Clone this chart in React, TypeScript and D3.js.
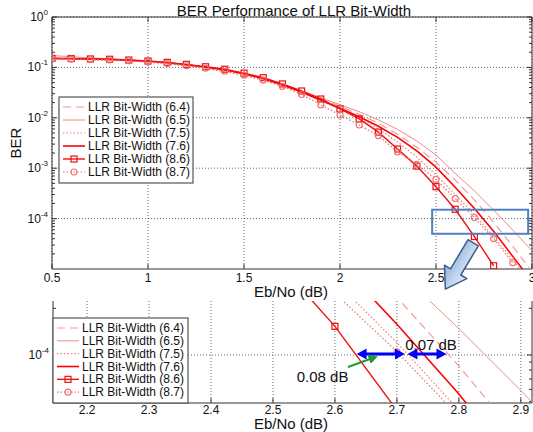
import React from 'react';
import * as d3 from 'd3';

// Eb/No sample points (dB)
const ebNo = [0.5, 0.6, 0.7, 0.8, 0.9, 1.0, 1.1, 1.2, 1.3, 1.4, 1.5, 1.6, 1.7, 1.8, 1.9, 2.0, 2.1, 2.2, 2.3, 2.4, 2.5, 2.6, 2.7, 2.8, 2.9, 3.0];

// BER
const ber64 = [0.155, 0.152, 0.149, 0.145, 0.139, 0.132, 0.123, 0.112, 0.100, 0.088, 0.074, 0.059, 0.045, 0.0331, 0.0240, 0.0170, 0.0117, 0.0078, 0.0047, 0.0026, 0.00132, 5.8e-4, 2.35e-4, 8.5e-5, 2.8e-5, 8.9e-6];
const ber65 = [0.172, 0.163, 0.155, 0.148, 0.141, 0.133, 0.124, 0.113, 0.101, 0.089, 0.075, 0.060, 0.046, 0.0339, 0.0251, 0.0182, 0.0132, 0.0091, 0.0059, 0.00347, 0.00182, 7.9e-4, 3.55e-4, 1.48e-4, 5.9e-5, 2.3e-5];
const ber75 = [0.147, 0.145, 0.142, 0.139, 0.134, 0.127, 0.118, 0.107, 0.095, 0.083, 0.069, 0.056, 0.043, 0.0316, 0.0219, 0.0151, 0.0100, 0.0060, 0.0033, 0.00166, 7.4e-4, 3.0e-4, 1.2e-4, 4.4e-5, 1.5e-5, 5.0e-6];
const ber76 = [0.150, 0.148, 0.146, 0.143, 0.138, 0.132, 0.124, 0.113, 0.101, 0.089, 0.075, 0.060, 0.045, 0.0324, 0.0224, 0.0155, 0.0105, 0.0068, 0.0041, 0.0022, 0.00105, 4.2e-4, 1.58e-4, 5.6e-5, 1.78e-5, 5.6e-6];
const ber86 = [0.151, 0.150, 0.147, 0.145, 0.140, 0.134, 0.126, 0.115, 0.103, 0.092, 0.077, 0.0625, 0.047, 0.034, 0.0236, 0.015, 0.0095, 0.0052, 0.0024, 0.0011, 4.3e-4, 1.53e-4, 4.4e-5, 1.16e-5];
const ber87 = [0.148, 0.146, 0.143, 0.140, 0.135, 0.128, 0.119, 0.108, 0.096, 0.084, 0.070, 0.056, 0.042, 0.029, 0.018, 0.0114, 0.0072, 0.0044, 0.0021, 0.0012, 6.0e-4, 2.5e-4, 1.05e-4, 4.0e-5, 1.33e-5];

const labels = ['LLR Bit-Width (6.4)', 'LLR Bit-Width (6.5)', 'LLR Bit-Width (7.5)', 'LLR Bit-Width (7.6)', 'LLR Bit-Width (8.6)', 'LLR Bit-Width (8.7)'];

const topXTicks = [0.5, 1, 1.5, 2, 2.5, 3];
const topYExps = [0, -1, -2, -3, -4];
const zoomXTicks = [2.2, 2.3, 2.4, 2.5, 2.6, 2.7, 2.8, 2.9];
const zoomYExps = [-4];

// annotations (data units)
const zoomBox = {x0: 2.48, x1: 2.98, y0: 5e-5, y1: 1.5e-4};
const gap1 = [2.635, 2.713];
const gap2 = [2.717, 2.78];
const gapLabels = ['0.08 dB', '0.07 dB'];

const FONT = "'Liberation Sans', Arial, sans-serif";

const series = [
  {values: ber64, stroke: '#f29a9a', width: 1.2, dash: '8,5', marker: null},
  {values: ber65, stroke: '#f08a8a', width: 1, dash: null, marker: null},
  {values: ber75, stroke: '#f08080', width: 1.2, dash: '1.5,2', marker: null},
  {values: ber76, stroke: '#ff0000', width: 1.6, dash: null, marker: null},
  {values: ber86, stroke: '#f01010', width: 1.4, dash: null, marker: 'square'},
  {values: ber87, stroke: '#ec7070', width: 1.2, dash: '1.5,2', marker: 'circle'},
];

type Sc = {x: d3.ScaleLinear<number, number>, y: d3.ScaleLogarithmic<number, number>};

const Marker = ({kind, cx, cy, color}: any) =>
  kind === 'square'
    ? <rect x={cx - 3} y={cy - 3} width={6} height={6} fill="none" stroke={color} strokeWidth={1.2} />
    : <circle cx={cx} cy={cy} r={3} fill="none" stroke={color} strokeWidth={1.1} />;

const Curves = ({x, y, clip}: Sc & {clip: string}) => {
  const line = d3.line<number>().x((_, i) => x(ebNo[i])).y(d => y(d));
  return (
    <g clipPath={`url(#${clip})`}>
      {series.map((s, i) => (
        <g key={i}>
          <path d={line(s.values) || ''} fill="none" stroke={s.stroke} strokeWidth={s.width}
            strokeDasharray={s.dash || undefined} />
          {s.marker && s.values.map((v, j) => (
            <Marker key={j} kind={s.marker} cx={x(ebNo[j])} cy={y(v)} color={s.stroke} />
          ))}
        </g>
      ))}
    </g>
  );
};

const Axes = ({x, y, xTicks, yExps, topBorder, tickGap, labelGap}: Sc & {xTicks: number[], yExps: number[], topBorder: boolean, tickGap: number, labelGap: number}) => {
  const [x0, x1] = x.range();
  const [yb, yt] = y.range();
  const [d0, d1] = y.domain();
  const minors: number[] = [];
  for (let k = Math.floor(Math.log10(d0)); k <= Math.ceil(Math.log10(d1)); k++) {
    for (let m = 2; m <= 9; m++) {
      const v = m * Math.pow(10, k);
      if (v > d0 && v < d1) minors.push(v);
    }
  }
  const grid = '#444';
  return (
    <g fontFamily={FONT}>
      {xTicks.map(t => (
        <line key={'gx' + t} x1={x(t)} x2={x(t)} y1={yt} y2={yb} stroke={grid} strokeWidth={0.8} strokeDasharray="1,2" />
      ))}
      {yExps.map(e => (
        <line key={'gy' + e} x1={x0} x2={x1} y1={y(Math.pow(10, e))} y2={y(Math.pow(10, e))} stroke={grid} strokeWidth={0.8} strokeDasharray="1,2" />
      ))}
      {minors.map((v, i) => (
        <g key={'m' + i}>
          <line x1={x0} x2={x0 + 3} y1={y(v)} y2={y(v)} stroke="#333" />
          <line x1={x1} x2={x1 - 3} y1={y(v)} y2={y(v)} stroke="#333" />
        </g>
      ))}
      {yExps.map(e => (
        <g key={'yt' + e}>
          <line x1={x0} x2={x0 + 5} y1={y(Math.pow(10, e))} y2={y(Math.pow(10, e))} stroke="#333" />
          <line x1={x1} x2={x1 - 5} y1={y(Math.pow(10, e))} y2={y(Math.pow(10, e))} stroke="#333" />
          <text x={x0 - 4} y={y(Math.pow(10, e)) + 4} textAnchor="end" fontSize={12} fill="#111">
            10<tspan fontSize={8} dy={-6}>{e}</tspan>
          </text>
        </g>
      ))}
      {xTicks.map(t => (
        <g key={'xt' + t}>
          <line x1={x(t)} x2={x(t)} y1={yb} y2={yb - 5} stroke="#333" />
          {topBorder && <line x1={x(t)} x2={x(t)} y1={yt} y2={yt + 5} stroke="#333" />}
          <text x={x(t)} y={yb + tickGap} textAnchor="middle" fontSize={12} fill="#111">{t}</text>
        </g>
      ))}
      <path d={topBorder ? `M${x0},${yb}V${yt}H${x1}V${yb}Z` : `M${x0},${yt}V${yb}H${x1}V${yt}`}
        fill="none" stroke="#333" strokeWidth={1} />
      <text x={291} y={yb + labelGap} textAnchor="middle" fontSize={15} fill="#111">Eb/No (dB)</text>
    </g>
  );
};

const Legend = ({left, top, w, h}: any) => {
  const rowH = (h - 8) / labels.length;
  return (
    <g fontFamily={FONT}>
      <rect x={left} y={top} width={w} height={h} fill="#fff" stroke="#555" strokeWidth={1.2} />
      {series.map((s, i) => {
        const cy = top + 10 + i * rowH;
        return (
          <g key={i}>
            <line x1={left + 4} x2={left + 26} y1={cy} y2={cy} stroke={s.stroke} strokeWidth={s.width}
              strokeDasharray={s.dash || undefined} />
            {s.marker && <Marker kind={s.marker} cx={left + 15} cy={cy} color={s.stroke} />}
            <text x={left + 29} y={cy + 4} fontSize={12} fill="#111">{labels[i]}</text>
          </g>
        );
      })}
    </g>
  );
};

const ArrowHead = ({x, y, dir, color}: any) => (
  <path d={`M${x},${y}L${x - dir * 10},${y - 5.5}L${x - dir * 10},${y + 5.5}Z`} fill={color} />
);

export default function App() {
  const top: Sc = {
    x: d3.scaleLinear().domain([0.5, 3]).range([52, 532]),
    y: d3.scaleLog().domain([1e-5, 1]).range([269, 17]),
  };
  const zoom: Sc = {
    x: d3.scaleLinear().domain([2.145, 2.918]).range([53, 532]),
    y: d3.scaleLog().domain([4.9e-5, 2.23e-4]).range([403, 301]),
  };
  const zy = zoom.y(1e-4) - 1;
  const blue = '#0000ff';

  return (
    <svg width={533} height={432} style={{position: 'absolute', left: 0, top: 0, background: '#fff'}}>
      <defs>
        <clipPath id="clipTop"><rect x={52} y={17} width={480} height={252} /></clipPath>
        <clipPath id="clipZoom"><rect x={53} y={301} width={479} height={102} /></clipPath>
        <linearGradient id="arrowFill" x1="0" y1="0" x2="0" y2="1">
          <stop offset="0" stopColor="#e6eef8" />
          <stop offset="1" stopColor="#8fb2de" />
        </linearGradient>
      </defs>

      {/* top panel */}
      <Axes {...top} xTicks={topXTicks} yExps={topYExps} topBorder={true} tickGap={13} labelGap={28} />
      <Curves {...top} clip="clipTop" />
      <text x={294} y={16} textAnchor="middle" fontSize={15} fontFamily={FONT} fill="#111">BER Performance of LLR Bit-Width</text>
      <text transform="translate(21,143) rotate(-90)" textAnchor="middle" fontSize={15} fontFamily={FONT} fill="#111">BER</text>
      <Legend left={59} top={97} w={134} h={86} />
      <rect x={top.x(zoomBox.x0)} y={top.y(zoomBox.y1)} width={top.x(zoomBox.x1) - top.x(zoomBox.x0)}
        height={top.y(zoomBox.y0) - top.y(zoomBox.y1)} fill="none" stroke="#4f81bd" strokeWidth={2} />
      <g transform={`translate(${top.x(zoomBox.x0) + 41},${top.y(zoomBox.y0) + 9}) rotate(121)`}>
        <path d="M0,-6H34V-13L54,0L34,13V6H0Z" fill="url(#arrowFill)" stroke="#3a5f8f" strokeWidth={1.5} strokeLinejoin="round" />
      </g>

      {/* zoomed panel */}
      <Axes {...zoom} xTicks={zoomXTicks} yExps={zoomYExps} topBorder={false} tickGap={11} labelGap={26} />
      <Curves {...zoom} clip="clipZoom" />
      <Legend left={53} top={318} w={135} h={85} />

      <line x1={zoom.x(gap1[0]) + 8} x2={zoom.x(gap1[1]) - 8} y1={zy} y2={zy} stroke={blue} strokeWidth={3} />
      <ArrowHead x={zoom.x(gap1[0])} y={zy} dir={-1} color={blue} />
      <ArrowHead x={zoom.x(gap1[1])} y={zy} dir={1} color={blue} />
      <line x1={zoom.x(gap2[0]) + 8} x2={zoom.x(gap2[1]) - 8} y1={zy} y2={zy} stroke={blue} strokeWidth={3} />
      <ArrowHead x={zoom.x(gap2[0])} y={zy} dir={-1} color={blue} />
      <ArrowHead x={zoom.x(gap2[1])} y={zy} dir={1} color={blue} />
      <text x={zoom.x(2.755)} y={zy - 4} textAnchor="middle" fontSize={15} fontFamily={FONT} fill="#111">{gapLabels[1]}</text>
      <text x={zoom.x(2.58)} y={zy + 28} textAnchor="middle" fontSize={15} fontFamily={FONT} fill="#111">{gapLabels[0]}</text>
      <g stroke="#1e9a3c" fill="#1e9a3c">
        <line x1={348} y1={367} x2={370} y2={359} strokeWidth={2.2} />
        <path d="M377,356.5L368,355L371,363Z" />
      </g>
    </svg>
  );
}
